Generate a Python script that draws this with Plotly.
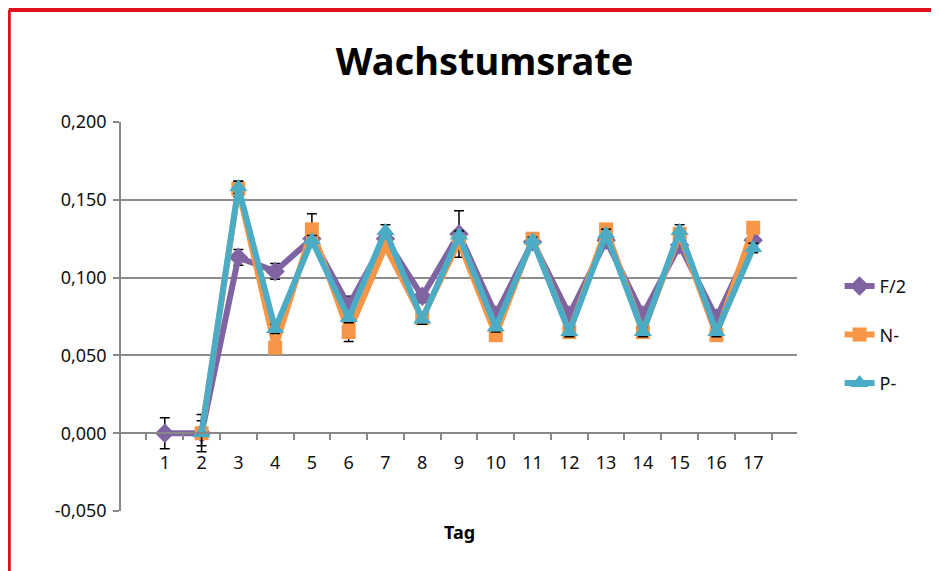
import plotly.graph_objects as go

days = [str(d) for d in range(1, 18)]

f2 = [0.000, 0.000, 0.113, 0.104, 0.125, 0.082, 0.125, 0.088, 0.128, 0.076, 0.123, 0.076, 0.124, 0.076, 0.121, 0.074, 0.124]
f2_err = [0.010, 0.003, 0.005, 0.005, 0.004, 0.006, 0.003, 0.004, 0.015, 0.003, 0.002, 0.003, 0.003, 0.003, 0.003, 0.003, 0.003]

n_minus = [None, 0.000, 0.157, 0.055, 0.131, 0.065, 0.120, 0.074, 0.123, 0.063, 0.125, 0.065, 0.131, 0.065, 0.128, 0.063, 0.132]
n_err = [None, 0.012, 0.005, 0.003, 0.010, 0.006, 0.003, 0.003, 0.003, 0.003, 0.002, 0.003, 0.003, 0.003, 0.004, 0.003, 0.003]

p_minus = [None, 0.000, 0.158, 0.067, 0.124, 0.074, 0.130, 0.073, 0.127, 0.068, 0.124, 0.065, 0.128, 0.065, 0.130, 0.065, 0.119]
p_err = [None, 0.008, 0.004, 0.003, 0.003, 0.003, 0.004, 0.003, 0.003, 0.003, 0.002, 0.003, 0.003, 0.003, 0.004, 0.003, 0.003]

y_tick_vals = [-0.05, 0.0, 0.05, 0.10, 0.15, 0.20]
y_tick_text = ["-0,050", "0,000", "0,050", "0,100", "0,150", "0,200"]

series = [
    ("F/2", f2, f2_err, "#8064A2", "diamond", 15),
    ("N-", n_minus, n_err, "#F79646", "square", 14),
    ("P-", p_minus, p_err, "#4BACC6", "triangle-up", 16),
]

FONT = "Noto Sans"
fig = go.Figure()
for i, (name, vals, errs, col, sym, msz) in enumerate(series):
    fig.add_trace(go.Scatter(
        x=days, y=vals, name=name, mode="lines+markers",
        line=dict(color=col, width=6),
        marker=dict(symbol=sym, size=msz, color=col),
        error_y=dict(type="data", array=errs, visible=True, color="black", thickness=1.5, width=5),
        legendgroup=f"g{i}",
    ))

fig.update_layout(
    width=931, height=563,
    paper_bgcolor="white", plot_bgcolor="white",
    margin=dict(l=113, r=142, t=114, b=60),
    showlegend=True,
    title=dict(text="<b>Wachstumsrate</b>", x=0.512, xanchor="center", y=0.905, yanchor="middle",
               font=dict(family=FONT, size=38, color="black")),
    legend=dict(x=1.063, y=0.625, xanchor="left", yanchor="top", tracegroupgap=22,
                font=dict(family=FONT, size=18, color="#111"), bgcolor="rgba(0,0,0,0)"),
    font=dict(family=FONT, size=18, color="#111"),
)

fig.update_xaxes(
    type="category", anchor="free", position=0.2,
    showline=True, linecolor="#888", linewidth=1.5,
    ticks="outside", tickson="boundaries", ticklen=6, tickcolor="#888", tickwidth=1.5,
    showgrid=False, ticklabelstandoff=13,
    tickfont=dict(family=FONT, size=18, color="#111"),
)
fig.update_yaxes(
    range=[-0.05, 0.2], tickvals=y_tick_vals, ticktext=y_tick_text,
    showline=True, linecolor="#888", linewidth=1.5,
    ticks="outside", ticklen=6, tickcolor="#888", tickwidth=1.5,
    showgrid=True, gridcolor="#8c8c8c", gridwidth=1.5, zeroline=False,
    tickfont=dict(family=FONT, size=18, color="#111"), ticklabelstandoff=3,
)

fig.add_annotation(text="<b>Tag</b>", xref="paper", yref="paper", x=0.5, y=-0.055,
                   showarrow=False, yanchor="middle", font=dict(family=FONT, size=18, color="black"))

# red frame (screenshot border) at top and left
fig.add_shape(type="line", xref="paper", yref="paper", x0=-0.166, x1=1.22, y0=1.288, y1=1.288,
              line=dict(color="#E0101E", width=4))
fig.add_shape(type="line", xref="paper", yref="paper", x0=-0.166, x1=-0.166, y0=1.288, y1=-0.16,
              line=dict(color="#E0101E", width=4))

fig.write_html("out.html")
